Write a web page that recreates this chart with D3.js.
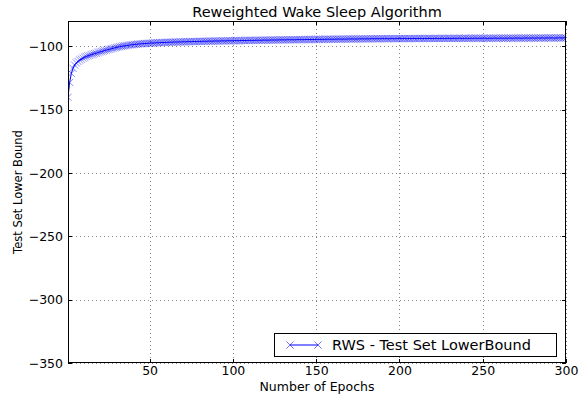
<!DOCTYPE html>
<html><head><meta charset="utf-8">
<script src="https://cdn.jsdelivr.net/npm/d3@7"></script>
<style>body{margin:0;background:#fff}svg{display:block}text{font-family:"DejaVu Sans",sans-serif;fill:#000}</style>
</head><body><svg id="c" width="583" height="397"></svg>
<script>
const title = "Reweighted Wake Sleep Algorithm";
const xLabel = "Number of Epochs";
const yLabel = "Test Set Lower Bound";
const seriesName = "RWS - Test Set LowerBound";
const xTicks = [50, 100, 150, 200, 250, 300];
const yTicks = [-350, -300, -250, -200, -150, -100];
const lowerBound = [
-140.2,-128.5,-121.3,-117.4,-114.8,-113.1,-111.9,-110.8,-110.1,-109.3,
-108.6,-108.1,-107.5,-107.1,-106.6,-106.2,-105.7,-105.4,-104.9,-104.5,
-104.1,-103.8,-103.3,-103.0,-102.6,-102.3,-101.9,-101.6,-101.2,-100.9,
-100.6,-100.3,-100.0,-99.8,-99.6,-99.4,-99.2,-99.0,-98.8,-98.7,
-98.5,-98.4,-98.2,-98.1,-98.0,-97.9,-97.8,-97.7,-97.6,-97.5,
-97.4,-97.4,-97.3,-97.2,-97.2,-97.1,-97.0,-97.0,-96.9,-96.9,
-96.8,-96.8,-96.7,-96.7,-96.6,-96.6,-96.6,-96.5,-96.5,-96.4,
-96.4,-96.4,-96.3,-96.3,-96.3,-96.2,-96.2,-96.2,-96.1,-96.1,
-96.1,-96.0,-96.0,-96.0,-95.9,-95.9,-95.9,-95.9,-95.8,-95.8,
-95.8,-95.8,-95.7,-95.7,-95.7,-95.7,-95.6,-95.6,-95.6,-95.6,
-95.5,-95.5,-95.5,-95.5,-95.4,-95.4,-95.4,-95.4,-95.3,-95.3,
-95.3,-95.3,-95.3,-95.2,-95.2,-95.2,-95.2,-95.1,-95.1,-95.1,
-95.1,-95.1,-95.0,-95.0,-95.0,-95.0,-95.0,-94.9,-94.9,-94.9,
-94.9,-94.9,-94.8,-94.8,-94.8,-94.8,-94.8,-94.8,-94.7,-94.7,
-94.7,-94.7,-94.7,-94.6,-94.6,-94.6,-94.6,-94.6,-94.6,-94.5,
-94.5,-94.5,-94.5,-94.5,-94.5,-94.4,-94.4,-94.4,-94.4,-94.4,
-94.4,-94.3,-94.3,-94.3,-94.3,-94.3,-94.3,-94.3,-94.2,-94.2,
-94.2,-94.2,-94.2,-94.2,-94.2,-94.1,-94.1,-94.1,-94.1,-94.1,
-94.1,-94.1,-94.0,-94.0,-94.0,-94.0,-94.0,-94.0,-94.0,-93.9,
-94.0,-93.9,-94.0,-94.0,-93.9,-93.9,-94.0,-93.9,-93.9,-93.9,
-93.9,-93.9,-93.8,-93.9,-93.9,-93.8,-93.9,-93.8,-93.8,-93.9,
-93.8,-93.8,-93.8,-93.9,-93.8,-93.8,-93.8,-93.7,-93.8,-93.8,
-93.8,-93.7,-93.8,-93.8,-93.7,-93.7,-93.8,-93.7,-93.7,-93.7,
-93.8,-93.7,-93.7,-93.7,-93.7,-93.6,-93.7,-93.7,-93.7,-93.6,
-93.7,-93.7,-93.6,-93.7,-93.6,-93.6,-93.7,-93.6,-93.6,-93.6,
-93.6,-93.6,-93.7,-93.6,-93.6,-93.6,-93.5,-93.6,-93.6,-93.6,
-93.5,-93.6,-93.6,-93.5,-93.6,-93.5,-93.5,-93.6,-93.5,-93.5,
-93.5,-93.5,-93.6,-93.5,-93.5,-93.4,-93.5,-93.5,-93.5,-93.4,
-93.5,-93.5,-93.4,-93.5,-93.4,-93.4,-93.5,-93.4,-93.4,-93.4,
-93.4,-93.4,-93.5,-93.4,-93.4,-93.3,-93.4,-93.4,-93.3,-93.4
];
const epochs = lowerBound.map((v, i) => i + 1);

const svg = d3.select("#c");
const L = 68, R = 566, T = 21, B = 363;
const x = d3.scaleLinear().domain([1, 300]).range([L, R]);
const y = d3.scaleLinear().domain([-350, -80]).range([B, T]);

// grid
const g = svg.append("g");
g.selectAll(".gx").data(xTicks).enter().append("line")
  .attr("x1", d => Math.round(x(d)) + 0.5).attr("x2", d => Math.round(x(d)) + 0.5)
  .attr("y1", T).attr("y2", B)
  .attr("stroke", "#555").attr("stroke-width", 0.7).attr("stroke-dasharray", "1,3");
g.selectAll(".gy").data(yTicks).enter().append("line")
  .attr("y1", d => Math.round(y(d)) + 0.5).attr("y2", d => Math.round(y(d)) + 0.5)
  .attr("x1", L).attr("x2", R)
  .attr("stroke", "#555").attr("stroke-width", 0.7).attr("stroke-dasharray", "1,3");

svg.append("clipPath").attr("id", "clip").append("rect")
  .attr("x", L).attr("y", T).attr("width", R - L).attr("height", B - T);
const plot = svg.append("g").attr("clip-path", "url(#clip)");

const line = d3.line().x((d, i) => x(epochs[i])).y(d => y(d));
plot.append("path").datum(lowerBound).attr("d", line)
  .attr("fill", "none").attr("stroke", "#0000ff").attr("stroke-width", 1);

const ms = 3.6;
plot.selectAll(".m").data(lowerBound).enter().append("path")
  .attr("d", (d, i) => {
    const cx = x(epochs[i]), cy = y(d);
    return `M${cx - ms},${cy - ms}L${cx + ms},${cy + ms}M${cx - ms},${cy + ms}L${cx + ms},${cy - ms}`;
  })
  .attr("stroke", "#0000ff").attr("stroke-opacity", 0.5).attr("stroke-width", 0.9).attr("fill", "none");

svg.append("rect").attr("x", L + 0.5).attr("y", T + 0.5).attr("width", R - L - 1).attr("height", B - T - 1)
  .attr("fill", "none").attr("stroke", "#000").attr("stroke-width", 1);

const tl = 4;
const xa = d3.axisBottom(x).tickValues(xTicks).tickSize(0).tickPadding(3);
const xg = svg.append("g").attr("transform", `translate(0,${B})`).call(xa);
xg.select(".domain").remove();
xg.selectAll("text").style("font-size", "12.5px").style("font-family", "DejaVu Sans");
const ya = d3.axisLeft(y).tickValues(yTicks).tickSize(0).tickPadding(5).tickFormat(d => "\u2212" + Math.abs(d));
const yg = svg.append("g").attr("transform", `translate(${L},0)`).call(ya);
yg.select(".domain").remove();
yg.selectAll("text").style("font-size", "12.5px").style("font-family", "DejaVu Sans");

xTicks.forEach(t => {
  const px = Math.round(x(t)) + 0.5;
  svg.append("line").attr("x1", px).attr("x2", px).attr("y1", B).attr("y2", B - tl).attr("stroke", "#000");
  svg.append("line").attr("x1", px).attr("x2", px).attr("y1", T).attr("y2", T + tl).attr("stroke", "#000");
});
yTicks.forEach(t => {
  const py = Math.round(y(t)) + 0.5;
  svg.append("line").attr("x1", L).attr("x2", L + tl).attr("y1", py).attr("y2", py).attr("stroke", "#000");
  svg.append("line").attr("x1", R).attr("x2", R - tl).attr("y1", py).attr("y2", py).attr("stroke", "#000");
});

svg.append("text").attr("x", (L + R) / 2).attr("y", 17).attr("text-anchor", "middle")
  .style("font-size", "14.5px").text(title);
svg.append("text").attr("x", (L + R) / 2).attr("y", 391).attr("text-anchor", "middle")
  .style("font-size", "12.5px").text(xLabel);
svg.append("text").attr("transform", `translate(22,${(T + B) / 2}) rotate(-90)`).attr("text-anchor", "middle")
  .style("font-size", "11.5px").text(yLabel);

const lg = svg.append("g");
lg.append("rect").attr("x", 274.5).attr("y", 333.5).attr("width", 282).attr("height", 23)
  .attr("fill", "#fff").attr("stroke", "#000").attr("stroke-width", 1);
const lx1 = 290, lx2 = 318, ly = 345;
lg.append("line").attr("x1", lx1).attr("x2", lx2).attr("y1", ly).attr("y2", ly).attr("stroke", "#0000ff");
[lx1, lx2].forEach(cx => {
  lg.append("path").attr("d", `M${cx - ms},${ly - ms}L${cx + ms},${ly + ms}M${cx - ms},${ly + ms}L${cx + ms},${ly - ms}`)
    .attr("stroke", "#0000ff").attr("stroke-opacity", 0.6).attr("stroke-width", 0.9);
});
lg.append("text").attr("x", 332).attr("y", 350).style("font-size", "14.5px").text(seriesName);
</script></body></html>
